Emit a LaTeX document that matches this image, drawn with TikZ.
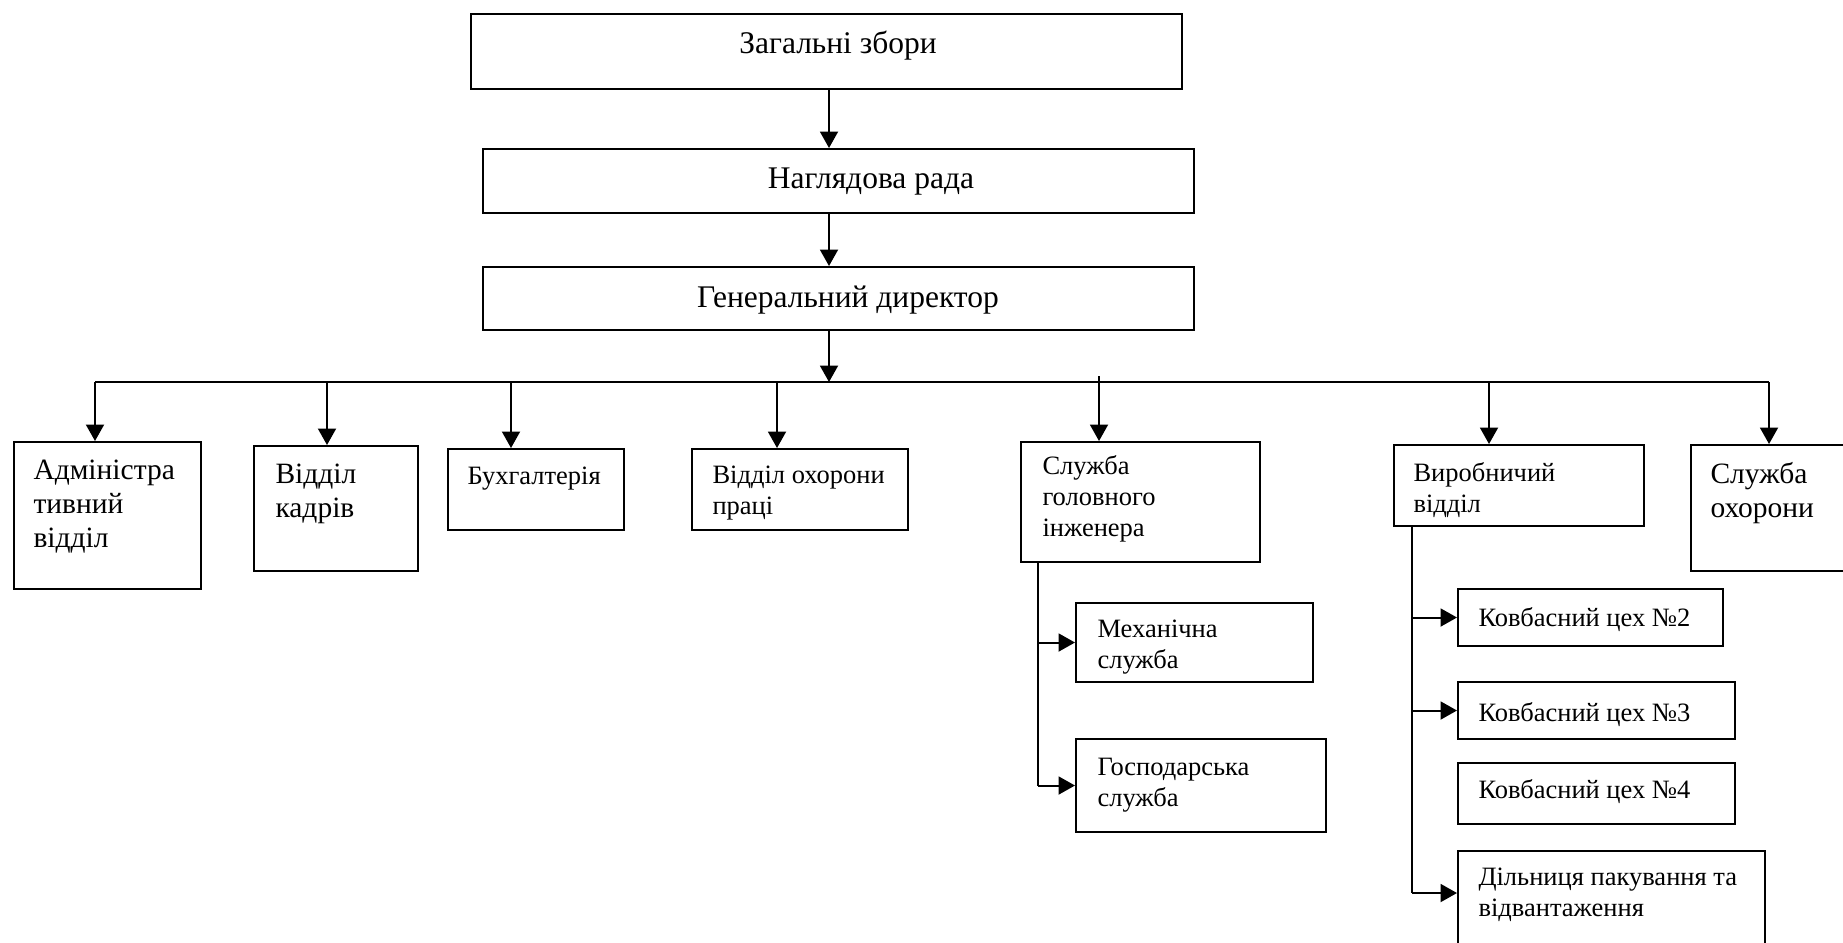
\documentclass[tikz,border=0pt]{standalone}
\usepackage{fontspec}
\setmainfont{Liberation Serif}
\usetikzlibrary{arrows.meta}
\tikzset{
  orgbox/.style={draw,line width=0.8pt,inner sep=0pt,anchor=north west},
  lbl/.style={inner sep=0pt,anchor=north west,align=left},
  bigtxt/.style={font=\fontsize{12.6}{15}\selectfont},
  midtxt/.style={font=\fontsize{11.8}{13.6}\selectfont},
  smalltxt/.style={font=\fontsize{10.6}{12.4}\selectfont},
  link/.style={line width=0.8pt},
  arr/.style={line width=0.8pt,-{Triangle[length=6.6pt,width=7.2pt]}}
}
\begin{document}
\begin{tikzpicture}[x=0.4pt,y=-0.4pt]
            \useasboundingbox (0,0) rectangle (1843,942);
            % upper levels
            \node[orgbox,minimum width=284.4pt,minimum height=30pt] (zbory) at (470,13) {};
            \node[orgbox,minimum width=284.4pt,minimum height=25.6pt] (rada) at (482,148) {};
            \node[orgbox,minimum width=284.4pt,minimum height=25.2pt] (dyr) at (482,266) {};
            \node[bigtxt,anchor=base,inner sep=0pt] (zbory-t) at (838,53) {Загальні збори};
            \node[bigtxt,anchor=base,inner sep=0pt] (rada-t) at (871,188) {Наглядова рада};
            \node[bigtxt,anchor=base,inner sep=0pt] (dyr-t) at (848,307) {Генеральний директор};
            % departments
            \node[orgbox,minimum width=74.8pt,minimum height=58.8pt] (admin) at (13,441) {};
            \node[orgbox,minimum width=65.6pt,minimum height=50pt] (kadry) at (253,445) {};
            \node[orgbox,minimum width=70.4pt,minimum height=32.4pt] (buh) at (447,448) {};
            \node[orgbox,minimum width=86.4pt,minimum height=32.4pt] (ohprac) at (691,448) {};
            \node[orgbox,minimum width=95.6pt,minimum height=48pt] (inzh) at (1020,441) {};
            \node[orgbox,minimum width=100pt,minimum height=32.4pt] (vyrob) at (1393,444) {};
            \node[orgbox,minimum width=72pt,minimum height=50.4pt] (ohor) at (1690,444) {};
            \node[lbl,midtxt] (admin-t) at (33,459) {Адміністра\\тивний\\відділ};
            \node[lbl,midtxt] (kadry-t) at (275,463) {Відділ\\кадрів};
            \node[lbl,smalltxt] (buh-t) at (467,466) {Бухгалтерія};
            \node[lbl,smalltxt] (ohprac-t) at (712,465) {Відділ охорони\\праці};
            \node[lbl,smalltxt] (inzh-t) at (1042,455) {Служба\\головного\\інженера};
            \node[lbl,smalltxt] (vyrob-t) at (1413,462) {Виробничий\\відділ};
            \node[lbl,midtxt] (ohor-t) at (1710,462) {Служба\\охорони};
            % services and shops
            \node[orgbox,minimum width=94.8pt,minimum height=31.6pt] (meh) at (1075,602) {};
            \node[orgbox,minimum width=100pt,minimum height=37.2pt] (gosp) at (1075,738) {};
            \node[orgbox,minimum width=106pt,minimum height=22.8pt] (ceh2) at (1457,588) {};
            \node[orgbox,minimum width=110.8pt,minimum height=22.8pt] (ceh3) at (1457,681) {};
            \node[orgbox,minimum width=110.8pt,minimum height=24.4pt] (ceh4) at (1457,762) {};
            \node[orgbox,minimum width=122.8pt,minimum height=48pt] (pak) at (1457,850) {};
            \node[lbl,smalltxt] (meh-t) at (1097,619) {Механічна\\служба};
            \node[lbl,smalltxt] (gosp-t) at (1097,758) {Господарська\\служба};
            \node[lbl,smalltxt] (ceh2-t) at (1478,607) {Ковбасний цех №2};
            \node[lbl,smalltxt] (ceh3-t) at (1478,702) {Ковбасний цех №3};
            \node[lbl,smalltxt] (ceh4-t) at (1478,779) {Ковбасний цех №4};
            \node[lbl,smalltxt] (pak-t) at (1478,867) {Дільниця пакування та\\відвантаження};
            % bus and drop points
            \coordinate (axis) at (829,0);
            \coordinate (busL) at (95,382);
            \coordinate (busR) at (1769,382);
            \coordinate (dKadry) at (327,382);
            \coordinate (dBuh) at (511,382);
            \coordinate (dOhprac) at (777,382);
            \coordinate (dInzh) at (1099,376);
            \coordinate (dVyrob) at (1489,382);
            \coordinate (tInzh) at (1038,0);
            \coordinate (tVyrob) at (1412,0);
            \coordinate (pakIn) at (1457,893);
            \draw[arr] (zbory.south -| axis) -- (rada.north -| axis);
            \draw[arr] (rada.south -| axis) -- (dyr.north -| axis);
            \draw[arr] (dyr.south -| axis) -- (busL -| axis);
            \draw[link] (busL) -- (busR);
            \draw[arr] (busL) -- (busL |- admin.north);
            \draw[arr] (dKadry) -- (dKadry |- kadry.north);
            \draw[arr] (dBuh) -- (dBuh |- buh.north);
            \draw[arr] (dOhprac) -- (dOhprac |- ohprac.north);
            \draw[arr] (dInzh) -- (dInzh |- inzh.north);
            \draw[arr] (dVyrob) -- (dVyrob |- vyrob.north);
            \draw[arr] (busR) -- (busR |- ohor.north);
            % branches
            \draw[link] (inzh.south -| tInzh) -- (tInzh |- gosp.west);
            \draw[arr] (tInzh |- meh.west) -- (meh.west);
            \draw[arr] (tInzh |- gosp.west) -- (gosp.west);
            \draw[link] (vyrob.south -| tVyrob) -- (tVyrob |- pakIn);
            \draw[arr] (tVyrob |- ceh2.west) -- (ceh2.west);
            \draw[arr] (tVyrob |- ceh3.west) -- (ceh3.west);
            \draw[arr] (tVyrob |- pakIn) -- (pakIn);
        \end{tikzpicture}
\end{document}
